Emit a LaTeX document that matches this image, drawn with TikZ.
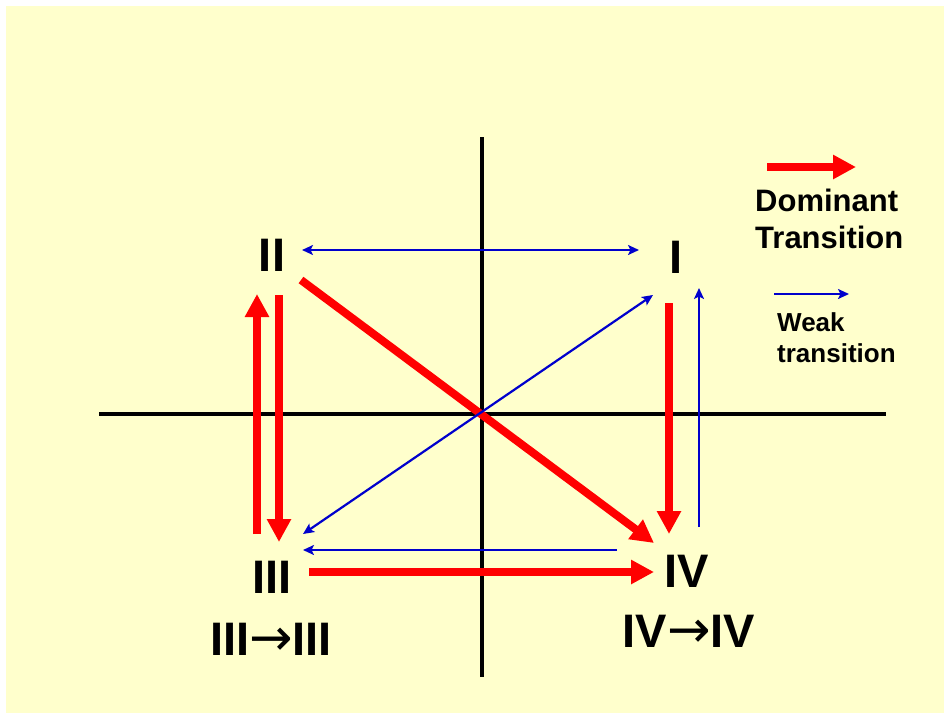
\documentclass[tikz,border=0pt]{standalone}
\usepackage{fontspec}
\setmainfont{Liberation Sans}
\newfontfamily\arrowfont{DejaVu Sans}
\usepackage{xcolor}
\usetikzlibrary{arrows.meta}

\definecolor{paper}{HTML}{FFFFCC}
\definecolor{wkblue}{HTML}{0000CC}

\newcommand{\selfarrow}{{\arrowfont\mdseries\fontsize{52}{56}\selectfont →}}

\begin{document}
\begin{tikzpicture}[x=1pt, y=-1pt,
    quad/.style={font=\fontsize{47}{56}\selectfont\bfseries, inner sep=0pt, anchor=base},
    legtxt/.style={font=\fontsize{31}{37}\selectfont\bfseries, inner sep=0pt,
                   anchor=base west, align=left},
    wktxt/.style={font=\fontsize{26}{31}\selectfont\bfseries, inner sep=0pt,
                  anchor=base west, align=left},
    dom/.style={draw=red, line width=8pt, -{Triangle[length=23pt, width=23pt]}},
    weak/.style={draw=wkblue, line width=2.2pt, -{Stealth[length=11pt, width=10pt, inset=2.5pt]}},
    weakboth/.style={weak, {Stealth[length=11pt, width=10pt, inset=2.5pt]}-{Stealth[length=11pt, width=10pt, inset=2.5pt]}},
    axis/.style={draw=black, line width=3.5pt}
  ]
  % ---------------- page ----------------
  \useasboundingbox (0,0) rectangle (944,715);
  \fill[white] (0,0) rectangle (944,715);
  \fill[paper] (6,6) rectangle (944,713);

  % ---------------- axes ----------------
  \coordinate (ytop) at (482,137);
  \coordinate (ybot) at (482,677);
  \coordinate (xlft) at (99,414);
  \coordinate (xrgt) at (886,414);
  \draw[axis] (ytop) -- (ybot);
  \draw[axis] (xlft) -- (xrgt);

  % ---------------- quadrants ----------------
  \node[quad] (qII)  at (272,271) {II};
  \node[quad] (qI)   at (676,273) {I};
  \node[quad] (qIII) at (272,593) {III};
  \node[quad] (qIV)  at (687,587) {IV};
  \node[quad] (selfIII) at (271,655) {III\selfarrow III};
  \node[quad] (selfIV)  at (689,647) {IV\selfarrow IV};

  % arrow ends round the quadrants
  \coordinate (IIdiag)  at (301,280);
  \coordinate (IVdiag)  at (654,543);
  \coordinate (IIIup)   at (257,534);
  \coordinate (IIup)    at (257,294);
  \coordinate (IIdown)  at (279,295);
  \coordinate (IIIdown) at (279,542);
  \coordinate (IIIright) at (309,572);
  \coordinate (IVleft)  at (654,572);
  \coordinate (Idown)   at (669,303);
  \coordinate (IVup)    at (669,534);
  \coordinate (IIright) at (302,250);
  \coordinate (Ileft)   at (639,250);
  \coordinate (IIIdiag) at (303,534);
  \coordinate (Idiag)   at (653,295);
  \coordinate (IVwest)  at (617,550);
  \coordinate (IIIeast) at (303,550);
  \coordinate (IVnorth) at (699,527);
  \coordinate (Isouth)  at (699,288);

  % dominant transitions
  \draw[dom] (IIdiag) -- (IVdiag);
  \draw[dom] (IIIup) -- (IIup);
  \draw[dom] (IIdown) -- (IIIdown);
  \draw[dom] (IIIright) -- (IVleft);
  \draw[dom] (Idown) -- (IVup);

  % weak transitions
  \draw[weakboth] (IIright) -- (Ileft);
  \draw[weakboth] (IIIdiag) -- (Idiag);
  \draw[weak] (IVwest) -- (IIIeast);
  \draw[weak] (IVnorth) -- (Isouth);

  % ---------------- legend ----------------
  \coordinate (domA) at (767,167);
  \coordinate (domB) at (856,167);
  \draw[dom] (domA) -- (domB);
  \node[legtxt] (domlbl) at (755,248) {Dominant\\Transition};

  \coordinate (wkA) at (774,294);
  \coordinate (wkB) at (849,294);
  \draw[weak] (wkA) -- (wkB);
  \node[wktxt] (wklbl) at (777,362) {Weak\\transition};
\end{tikzpicture}
\end{document}
